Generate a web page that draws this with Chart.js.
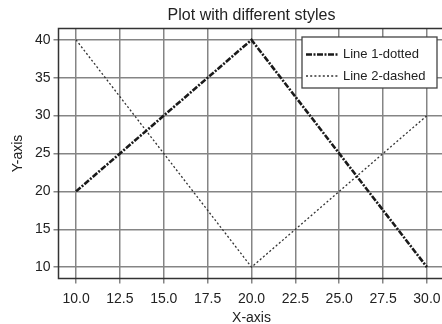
<!DOCTYPE html>
<html>
<head>
<meta charset="utf-8">
<script src="https://cdn.jsdelivr.net/npm/chart.js@4/dist/chart.umd.min.js"></script>
<style>
html,body{margin:0;padding:0;background:#fff;overflow:hidden;width:442px;height:324px;}
#wrap{width:448px;height:324px;}
</style>
</head>
<body>
<div id="wrap"><canvas id="c" width="448" height="324"></canvas></div>
<script>
const chartTitle = "Plot with different styles";
const xValues = [10, 20, 30];
const line1 = [20, 40, 10];
const line2 = [40, 10, 30];
const seriesLabels = ["Line 1-dotted", "Line 2-dashed"];
const xTicks = [10, 12.5, 15, 17.5, 20, 22.5, 25, 27.5, 30];
const yTicks = [10, 15, 20, 25, 30, 35, 40];
const xTitle = "X-axis";
const yTitle = "Y-axis";

const FONT = "'Liberation Sans', Arial, sans-serif";
const TXT = '#222';

const frameAndLegend = {
  id: 'frameAndLegend',
  afterDraw(chart) {
    const ctx = chart.ctx;
    const a = chart.chartArea;
    ctx.save();
    // frame
    ctx.strokeStyle = '#333';
    ctx.lineWidth = 1.5;
    ctx.setLineDash([]);
    ctx.strokeRect(a.left, a.top, a.right - a.left, a.bottom - a.top);
    // title
    ctx.fillStyle = TXT;
    ctx.font = "16px " + FONT;
    ctx.textAlign = 'center';
    ctx.textBaseline = 'middle';
    ctx.fillText(chartTitle, (a.left + a.right) / 2, 16);
    // legend
    const w = 135, h = 51;
    const lx = a.right - 7.5 - w, ly = a.top + 8.5;
    ctx.fillStyle = '#fff';
    ctx.fillRect(lx, ly, w, h);
    ctx.strokeStyle = '#444';
    ctx.lineWidth = 1.3;
    ctx.strokeRect(lx, ly, w, h);
    chart.data.datasets.forEach((ds, i) => {
      const y = ly + 17.5 + i * 21.5;
      ctx.strokeStyle = ds.borderColor;
      ctx.lineWidth = ds.borderWidth;
      ctx.setLineDash(ds.borderDash || []);
      ctx.beginPath();
      ctx.moveTo(lx + 4, y);
      ctx.lineTo(lx + 36, y);
      ctx.stroke();
      ctx.setLineDash([]);
      ctx.fillStyle = TXT;
      ctx.font = "13px " + FONT;
      ctx.textAlign = 'left';
      ctx.textBaseline = 'middle';
      ctx.fillText(ds.label, lx + 41, y);
    });
    ctx.restore();
  }
};

new Chart(document.getElementById('c'), {
  type: 'line',
  data: {
    datasets: [
      {
        label: seriesLabels[0],
        data: xValues.map((x, i) => ({x: x, y: line1[i]})),
        borderColor: '#1a1a1a',
        borderWidth: 2.6,
        borderDash: [6, 1.5, 2, 1.5],
        pointRadius: 0,
        fill: false,
        tension: 0
      },
      {
        label: seriesLabels[1],
        data: xValues.map((x, i) => ({x: x, y: line2[i]})),
        borderColor: '#333',
        borderWidth: 1.3,
        borderDash: [2, 2.2],
        pointRadius: 0,
        fill: false,
        tension: 0
      }
    ]
  },
  options: {
    responsive: false,
    animation: false,
    layout: { padding: { top: 28.5, right: 3.5, left: 0, bottom: 0 } },
    plugins: { legend: { display: false }, title: { display: false }, tooltip: { enabled: false } },
    scales: {
      x: {
        type: 'linear',
        min: 9, max: 31,
        afterBuildTicks: s => { s.ticks = xTicks.map(v => ({value: v})); },
        afterFit: s => { s.height = 45.5; },
        grid: { color: '#858585', lineWidth: 1.5, tickLength: 5, drawTicks: true },
        border: { display: false },
        ticks: { color: TXT, font: { family: FONT, size: 14 }, padding: 7, maxRotation: 0, autoSkip: false,
                 callback: v => Number(v).toFixed(1) },
        title: { display: true, text: xTitle, color: TXT, font: { family: FONT, size: 14 }, padding: { top: 0, bottom: -2.5 } }
      },
      y: {
        type: 'linear',
        min: 8.5, max: 41.5,
        afterBuildTicks: s => { s.ticks = yTicks.map(v => ({value: v})); },
        afterFit: s => { s.width = 58.5; },
        grid: { color: '#858585', lineWidth: 1.5, tickLength: 5, drawTicks: true },
        border: { display: false },
        ticks: { color: TXT, font: { family: FONT, size: 14 }, padding: 3, autoSkip: false,
                 callback: v => String(v) },
        title: { display: true, text: yTitle, color: TXT, font: { family: FONT, size: 14 }, padding: { top: 9.5, bottom: 0 } }
      }
    }
  },
  plugins: [frameAndLegend]
});
</script>
</body>
</html>
